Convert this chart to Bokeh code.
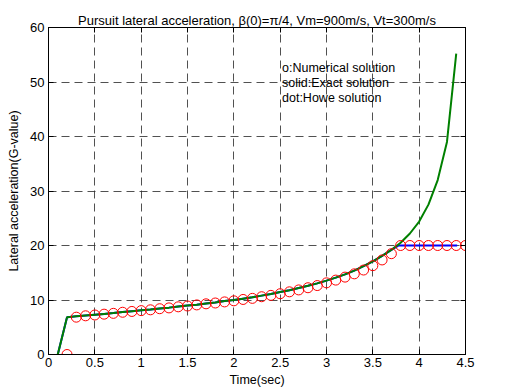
from bokeh.plotting import figure
from bokeh.models import LinearAxis, FixedTicker, Range1d, Label, Title, CustomJSTickFormatter
from bokeh.embed import file_html
from bokeh.resources import INLINE

# Exact solution (solid green)
t_exact = [0.1, 0.2, 0.3, 0.4, 0.5, 0.6, 0.7, 0.8, 0.9, 1.0, 1.1, 1.2, 1.3, 1.4, 1.5,
           1.6, 1.7, 1.8, 1.9, 2.0, 2.1, 2.2, 2.3, 2.4, 2.5, 2.6, 2.7, 2.8, 2.9, 3.0,
           3.1, 3.2, 3.3, 3.4, 3.5, 3.6, 3.7, 3.8, 3.9, 4.0, 4.1, 4.2, 4.3, 4.4]
g_exact = [0, 6.85, 7.0, 7.15, 7.3, 7.45, 7.6, 7.8, 7.95, 8.1, 8.25, 8.45, 8.6, 8.8, 9.0,
           9.15, 9.35, 9.55, 9.8, 10.0, 10.25, 10.5, 10.8, 11.1, 11.45, 11.8, 12.2, 12.6, 13.05, 13.55,
           14.1, 14.7, 15.4, 16.2, 17.1, 18.1, 19.2, 20.5, 22.2, 24.4, 27.5, 32.0, 39.0, 55.2]

# Howe solution (blue), limited at the G-limit
t_howe = [0.1, 0.2, 0.3, 0.4, 0.5, 0.6, 0.7, 0.8, 0.9, 1.0, 1.1, 1.2, 1.3, 1.4, 1.5,
          1.6, 1.7, 1.8, 1.9, 2.0, 2.1, 2.2, 2.3, 2.4, 2.5, 2.6, 2.7, 2.8, 2.9, 3.0,
          3.1, 3.2, 3.3, 3.4, 3.5, 3.6, 3.7, 3.78, 3.9, 4.0, 4.1, 4.2, 4.3, 4.41]
g_howe = [0, 6.85, 7.0, 7.15, 7.3, 7.45, 7.6, 7.8, 7.95, 8.1, 8.25, 8.45, 8.6, 8.8, 9.0,
          9.15, 9.35, 9.55, 9.8, 10.0, 10.25, 10.5, 10.8, 11.1, 11.45, 11.8, 12.2, 12.6, 13.05, 13.55,
          14.1, 14.7, 15.4, 16.2, 17.1, 18.1, 19.2, 20, 20, 20, 20, 20, 20, 20]

# Numerical solution (red circles)
t_num = [0.2, 0.3, 0.4, 0.5, 0.6, 0.7, 0.8, 0.9, 1.0, 1.1, 1.2, 1.3, 1.4, 1.5,
         1.6, 1.7, 1.8, 1.9, 2.0, 2.1, 2.2, 2.3, 2.4, 2.5, 2.6, 2.7, 2.8, 2.9, 3.0,
         3.1, 3.2, 3.3, 3.4, 3.5, 3.6, 3.7, 3.8, 3.9, 4.0, 4.1, 4.2, 4.3, 4.4, 4.5]
g_num = [0, 6.85, 7.1, 7.25, 7.4, 7.55, 7.75, 7.9, 8.05, 8.2, 8.4, 8.55, 8.75, 8.9,
         9.1, 9.3, 9.45, 9.65, 9.85, 10.1, 10.3, 10.6, 10.85, 11.15, 11.5, 11.85, 12.25, 12.65, 13.15,
         13.65, 14.2, 14.8, 15.5, 16.3, 17.35, 18.5, 20, 20, 20, 20, 20, 20, 20, 20]

x_ticks = [0, 0.5, 1, 1.5, 2, 2.5, 3, 3.5, 4, 4.5]
y_ticks = [0, 10, 20, 30, 40, 50, 60]

TITLE = "Pursuit lateral acceleration, \u03b2(0)=\u03c0/4, Vm=900m/s, Vt=300m/s"
FONT = "Liberation Sans"

p = figure(width=520, height=392, x_range=Range1d(0, 4.5), y_range=Range1d(0, 60),
           output_backend="svg", toolbar_location=None, title=None,
           min_border_left=48, min_border_right=55, min_border_top=27, min_border_bottom=38)

p.background_fill_color = "white"
p.border_fill_color = "white"
p.outline_line_color = "black"
p.outline_line_width = 1
p.outline_line_alpha = 1

fmt = CustomJSTickFormatter(code="return tick.toString();")
blank = CustomJSTickFormatter(code="return '';")

for ax in (p.xaxis[0], p.yaxis[0]):
    ax.major_tick_in = 5
    ax.major_tick_out = 0
    ax.minor_tick_in = 0
    ax.minor_tick_out = 0
    ax.axis_line_color = "black"
    ax.major_tick_line_color = "black"
    ax.major_label_text_font = FONT
    ax.major_label_text_font_size = "13px"
    ax.major_label_text_color = "black"
    ax.axis_label_text_font = FONT
    ax.axis_label_text_font_size = "12.5px"
    ax.axis_label_text_font_style = "normal"
    ax.axis_label_text_color = "black"
    ax.formatter = fmt

p.xaxis[0].ticker = FixedTicker(ticks=x_ticks)
p.yaxis[0].ticker = FixedTicker(ticks=y_ticks)
p.xaxis[0].axis_label = "Time(sec)"
p.yaxis[0].axis_label = "Lateral acceleration(G-value)"
p.xaxis[0].major_label_standoff = 3
p.xaxis[0].axis_label_standoff = 3
p.yaxis[0].major_label_standoff = 4
p.yaxis[0].axis_label_standoff = 6

top = LinearAxis(ticker=FixedTicker(ticks=x_ticks), major_tick_in=5, major_tick_out=0,
                 minor_tick_in=0, minor_tick_out=0, formatter=blank,
                 axis_line_color="black", major_label_standoff=6)
right = LinearAxis(ticker=FixedTicker(ticks=y_ticks), major_tick_in=5, major_tick_out=0,
                   minor_tick_in=0, minor_tick_out=0, formatter=blank,
                   axis_line_color="black", major_label_standoff=0)
p.add_layout(top, "above")
p.add_layout(right, "right")

title = Title(text=TITLE, align="center", text_font=FONT, text_font_size="13px",
              text_font_style="normal", text_color="black", standoff=0)
p.add_layout(title, "above")

p.xgrid.ticker = FixedTicker(ticks=x_ticks)
p.ygrid.ticker = FixedTicker(ticks=y_ticks)
for g in (p.xgrid[0], p.ygrid[0]):
    g.grid_line_color = "#333333"
    g.grid_line_alpha = 0.85
    g.grid_line_dash = "8 5"
    g.grid_line_width = 1

p.line(t_howe, g_howe, line_color="#0000ff", line_width=2)
p.line(t_exact, g_exact, line_color="#008000", line_width=2)
p.scatter(t_num, g_num, marker="circle", size=10, fill_color=None,
          line_color="#ff0000", line_width=1)

for txt, yv in (("o:Numerical solution", 52.6), ("solid:Exact solution", 49.8),
                ("dot:Howe solution", 47.1)):
    p.add_layout(Label(x=2.52, y=yv, text=txt, text_font=FONT, text_font_size="12.5px",
                       text_baseline="middle", text_align="left", text_color="black"))
p.add_layout(Label(x=4.62, y=20, text="G-limit", text_font=FONT, text_font_size="12.5px",
                   text_baseline="middle", text_align="left", text_color="black"))

open("out.html", "w").write(file_html(p, INLINE))
